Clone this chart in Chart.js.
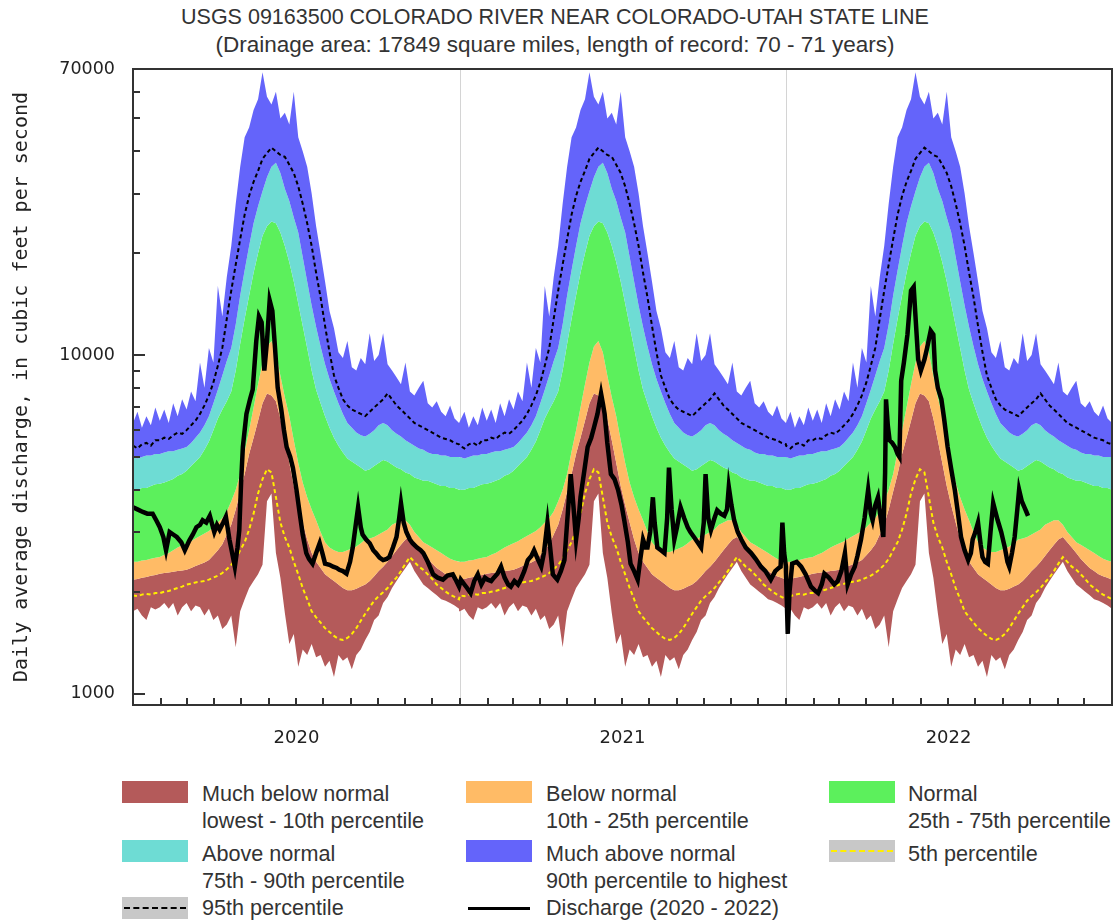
<!DOCTYPE html>
<html lang="en">
<head>
<meta charset="UTF-8">
<title>USGS 09163500 Colorado River near Colorado-Utah state line</title>
<script src="https://cdn.jsdelivr.net/npm/chart.js@4.4.1/dist/chart.umd.min.js"></script>
<style>
  *{box-sizing:border-box;margin:0;padding:0;}
  body{background:#fff;width:1117px;height:922px;position:relative;overflow:hidden;
       font-family:"Liberation Sans",Arial,sans-serif;color:#333;}
  #title{position:absolute;left:0;top:3px;width:1110px;text-align:center;font-size:21.5px;line-height:28px;}
  #title span{font-size:22.5px;}
  #chart{position:absolute;left:0;top:0;}
  .sw{position:absolute;width:66px;height:22px;}
  .txt{position:absolute;font-size:21.6px;line-height:27px;white-space:nowrap;}
  .dash{position:absolute;left:2px;right:2px;top:10px;border-top:2px dashed #000;}
</style>
</head>
<body>
<div id="title">USGS 09163500 COLORADO RIVER NEAR COLORADO-UTAH STATE LINE<br><span>(Drainage area: 17849 square miles, length of record: 70 - 71 years)</span></div>
<canvas id="chart" width="1117" height="760"></canvas>

<!-- legend -->
<div class="sw" style="left:122px;top:781px;background:#b45a5a"></div>
<div class="txt" style="left:202px;top:780px">Much below normal<br>lowest - 10th percentile</div>
<div class="sw" style="left:466px;top:781px;background:#ffbb66"></div>
<div class="txt" style="left:546px;top:780px">Below normal<br>10th - 25th percentile</div>
<div class="sw" style="left:829px;top:781px;background:#5cf05c"></div>
<div class="txt" style="left:908px;top:780px">Normal<br>25th - 75th percentile</div>

<div class="sw" style="left:122px;top:840px;background:#6edcd4"></div>
<div class="txt" style="left:202px;top:840px">Above normal<br>75th - 90th percentile</div>
<div class="sw" style="left:466px;top:840px;background:#6464fa"></div>
<div class="txt" style="left:546px;top:840px">Much above normal<br>90th percentile to highest</div>
<div class="sw" style="left:829px;top:840px;background:#c8c8c8"><div class="dash" style="border-top-color:#ffee00"></div></div>
<div class="txt" style="left:908px;top:840px">5th percentile</div>

<div class="sw" style="left:122px;top:897px;background:#c8c8c8"><div class="dash"></div></div>
<div class="txt" style="left:202px;top:894px">95th percentile</div>
<div class="sw" style="left:466px;top:897px"><div class="dash" style="border-top:3px solid #000"></div></div>
<div class="txt" style="left:546px;top:894px">Discharge (2020 - 2022)</div>

<script>
// ---- daily statistics by day of year (cfs), read every 5 days ----
const statDays = [0,5,10,15,20,25,30,35,40,45,50,55,60,65,70,75,80,85,90,95,
  100,105,110,115,120,125,130,135,140,145,150,155,160,165,170,175,180,185,190,195,
  200,205,210,215,220,225,230,235,240,245,250,255,260,265,270,275,280,285,290,295,
  300,305,310,315,320,325,330,335,340,345,350,355,360,365];
const minFlow = [1750,1780,1700,1650,1800,1770,1800,1850,1780,1850,
  1700,1800,1850,1750,1820,1800,1700,1780,1650,1700,
  1550,1600,1700,1370,1750,1900,2050,2150,2250,2400,
  3700,3900,2600,2200,1730,1400,1500,1200,1350,1300,
  1400,1280,1300,1200,1250,1120,1300,1250,1280,1180,
  1300,1350,1440,1520,1650,1700,1850,1930,2050,2150,
  2250,2350,2450,2300,2200,2100,2050,2000,1950,1900,
  1880,1850,1820,1780];
const p05 = [1950,1940,1960,1970,1960,1980,1980,2000,2010,2030,
  2050,2070,2100,2110,2130,2140,2150,2170,2200,2230,
  2270,2330,2400,2500,2650,2800,3050,3400,3900,4300,
  4600,4500,3800,3200,2900,2700,2450,2250,2050,1900,
  1750,1680,1620,1560,1520,1480,1450,1440,1460,1500,
  1560,1640,1720,1800,1880,1940,1990,2050,2130,2200,
  2300,2420,2530,2450,2370,2320,2250,2180,2100,2050,
  2000,1960,1930,1900];
const p10 = [2170,2180,2200,2210,2230,2240,2260,2270,2280,2290,
  2300,2310,2320,2350,2380,2410,2440,2480,2560,2650,
  2760,2950,3150,3500,3950,4450,5100,5700,6400,7200,
  7700,7600,7300,6500,5600,4800,4100,3600,3200,2850,
  2600,2450,2350,2250,2200,2150,2100,2050,2020,2020,
  2040,2070,2100,2150,2220,2300,2370,2450,2550,2650,
  2750,2850,2900,2800,2700,2600,2500,2420,2350,2300,
  2250,2220,2200,2170];
const p25 = [2450,2450,2470,2480,2500,2520,2530,2570,2600,2650,
  2700,2740,2780,2820,2870,2920,2970,3020,3100,3200,
  3300,3450,3700,4000,4450,5200,6000,7000,8200,9500,
  10600,11000,10200,8700,7500,6600,5600,4800,4200,3800,
  3500,3250,3000,2800,2700,2650,2620,2620,2650,2680,
  2720,2780,2850,2870,2900,2950,3000,3050,3150,3200,
  3250,3250,3150,3000,2900,2800,2750,2700,2650,2600,
  2550,2500,2470,2450];
const p75 = [4000,4000,4050,4050,4100,4150,4170,4200,4250,4300,
  4400,4450,4550,4700,4850,5000,5250,5550,6000,6500,
  6900,7300,7800,9000,10800,12800,15000,17500,20000,22500,
  24000,24800,24500,23000,21000,18800,16500,14200,12200,10500,
  9000,7900,7200,6600,6100,5700,5400,5150,4950,4850,
  4750,4650,4550,4600,4700,4800,4900,4850,4750,4650,
  4600,4500,4450,4350,4300,4250,4250,4200,4150,4100,
  4100,4050,4050,4000];
const p90 = [5000,4950,5000,5050,5050,5100,5100,5150,5200,5200,
  5250,5300,5350,5500,5700,5900,6200,6600,7200,7900,
  8700,9600,10500,12300,15000,17800,21000,24500,27500,30500,
  33500,36000,37000,34500,31000,28500,25500,23000,19500,16500,
  14000,12100,10600,9400,8500,7800,7200,6700,6300,6100,
  5900,5800,5750,5850,6000,6200,6300,6200,6000,5850,
  5750,5600,5500,5400,5300,5250,5150,5100,5100,5050,
  5050,5000,5000,5000];
const p95 = [5400,5300,5450,5500,5400,5600,5600,5700,5650,5800,
  5900,5850,6000,6200,6400,6700,7100,7600,8300,9300,
  10500,12800,15500,18500,22000,26000,29500,32500,35000,38000,
  39500,41000,40000,39000,38500,36500,34500,31500,28000,24500,
  21000,17500,14800,12200,10200,8700,8000,7400,7100,6900,
  6800,6700,6600,6800,7000,7200,7400,7700,7400,7100,
  6900,6700,6500,6300,6200,6100,6000,5900,5800,5700,
  5650,5600,5500,5450];
const maxFlow = [6300,6800,6100,6600,6200,7000,6400,6900,6300,7200,
  6600,7400,6900,7800,7300,9500,8000,10500,9500,16000,
  13000,17000,21000,28000,36000,44000,47000,53000,57000,68500,
  58000,55000,60000,50000,52000,48000,60000,44000,40000,36000,
  30000,24000,20000,16500,13500,12000,10200,9800,11000,9200,
  9000,9800,9400,11600,9600,10000,11600,9400,9000,8600,
  8200,9500,7800,7600,8000,8400,7200,7000,7300,6800,
  6600,7100,6500,6300];

// ---- daily discharge (cfs), day of year ----
const q2020Days = [0,5,11,16,22,26,30,34,37,41,45,49,54,58,63,67,71,75,78,82,
  86,91,94,97,101,104,108,111,114,117,119,121,123,125,127,131,134,138,141,144,
  147,150,153,156,159,162,166,169,172,176,179,183,187,190,194,197,201,205,209,212,
  215,220,224,228,231,235,239,243,246,249,252,255,257,261,265,269,272,276,280,284,
  287,291,295,298,300,303,306,310,313,318,322,325,330,336,341,347,352,358,362,365];
const q2020 = [3550,3500,3440,3400,3400,3250,3100,2900,2650,3000,2950,2900,2800,2650,2830,2950,3100,3150,3250,3200,
  3350,3000,3150,3050,3200,3330,2850,2600,2370,2700,3040,4200,5350,6000,6700,7400,7900,11000,13000,12500,
  9000,11000,14500,13500,10500,8000,6900,6000,5350,5000,4650,4000,3350,2950,2600,2500,2420,2600,2780,2600,
  2420,2400,2370,2350,2320,2300,2260,2450,2700,3100,3550,3100,2950,2850,2780,2650,2600,2520,2480,2500,
  2530,2700,2900,3300,3650,3200,3000,2850,2780,2700,2650,2600,2450,2250,2200,2170,2230,2250,2150,2070];
const q2021Days = [1,5,8,12,16,20,24,28,31,35,38,42,46,50,54,57,61,65,68,72,
  76,80,83,87,91,94,98,101,104,107,109,113,117,120,124,127,130,133,135,139,
  143,147,150,154,158,160,162,165,169,173,177,181,184,188,191,195,199,202,205,208,
  210,213,216,218,221,225,229,232,234,237,240,243,247,251,255,258,262,266,270,273,
  275,278,281,285,288,292,296,299,301,304,307,311,315,320,326,331,337,342,348,353,
  357,359,361,363,365];
const q2021 = [2170,2100,2050,1980,2150,2250,2100,2200,2170,2150,2200,2260,2370,2200,2100,2070,2150,2100,2170,2300,
  2480,2550,2650,2500,2370,2600,3200,2700,2250,2200,2170,2300,2480,3200,4450,3600,2850,3300,3800,4500,
  5350,5700,6100,6700,7700,7200,6700,5500,4450,4300,4000,3600,3250,2800,2420,2300,2170,2500,2850,2700,
  2700,3000,3800,3200,2700,2650,2600,3300,4650,3500,2850,3100,3550,3300,3100,3000,2900,2800,2700,3200,
  4450,3300,3040,3300,3480,3400,3350,3500,4080,3600,3250,3000,2850,2700,2600,2500,2370,2300,2170,2300,
  2350,2370,3200,2600,2370];
const q2022Days = [0,2,4,7,12,17,22,28,32,36,40,43,48,54,58,62,66,69,73,77,
  80,84,88,92,95,97,100,103,106,109,111,112,114,116,119,122,125,127,129,132,
  136,140,143,145,148,151,155,158,162,165,167,170,174,177,181,185,189,192,196,200,
  204,207,209,212,215,218,220,223,226,229,232,235,237,241,245,248,250,253,256,259,
  261,264,267,269,271];
const q2022 = [2300,1500,2000,2420,2450,2370,2250,2070,2020,1980,2100,2260,2200,2100,2150,2300,2600,2100,2250,2370,
  2550,2850,3300,4000,3400,3250,3600,3800,3300,2900,4500,7400,6200,5600,5500,5350,5100,5000,8400,9500,
  11500,15500,15900,13000,9700,9000,9700,10500,11800,11500,9000,8000,7400,6500,5350,4600,4000,3500,2900,2650,
  2480,2600,2850,3000,3200,2750,2530,2450,2420,3000,3650,3400,3250,3000,2700,2450,2370,2600,2900,3500,
  4000,3700,3550,3450,3350];

// ---- axes ----
const yearNames = ['2020', '2021', '2022'];
const yearStart = [0, 366, 731];
const yearMid = [183, 548, 913];
const axisEnd = 1096;
const monthStarts = [[31,60,91,121,152,182,213,244,274,305,335],
                     [31,59,90,120,151,181,212,243,273,304,334],
                     [31,59,90,120,151,181,212,243,273,304,334]];
const yTicks = [1000, 10000, 70000];
const yMinor = [2000,3000,4000,5000,6000,7000,8000,9000,20000,30000,40000,50000,60000];

// stats repeat each year (same day-of-year values)
const perYear = vals => yearStart.flatMap(s => statDays.map((d, i) => ({x: s + d, y: vals[i]})));
const discharge = [[q2020Days, q2020], [q2021Days, q2021], [q2022Days, q2022]]
  .flatMap(([days, vals], k) => days.map((d, i) => ({x: yearStart[k] + d, y: vals[i]})));

const band = (vals, color) => ({
  data: perYear(vals), pointRadius: 0, borderWidth: 0, borderColor: 'rgba(0,0,0,0)',
  backgroundColor: color || 'rgba(0,0,0,0)', fill: color ? '+1' : false
});

// year lines under the data, ticks and frame above it
const frame = {
  id: 'frame',
  beforeDatasetsDraw(chart) {
    const {ctx, chartArea: a, scales: {x}} = chart;
    ctx.save();
    ctx.strokeStyle = '#d4d4d4';
    ctx.lineWidth = 1;
    yearStart.slice(1).forEach(v => {
      const px = Math.round(x.getPixelForValue(v)) + 0.5;
      ctx.beginPath(); ctx.moveTo(px, a.top); ctx.lineTo(px, a.bottom); ctx.stroke();
    });
    ctx.restore();
  },
  afterDatasetsDraw(chart) {
    const {ctx, chartArea: a, scales: {x, y}} = chart;
    ctx.save();
    ctx.strokeStyle = '#333';
    ctx.lineWidth = 2;
    ctx.strokeRect(a.left, a.top, a.right - a.left, a.bottom - a.top);
    ctx.beginPath();
    yTicks.slice(0, 2).forEach(v => {
      const py = Math.round(y.getPixelForValue(v));
      ctx.moveTo(a.left, py); ctx.lineTo(a.left + 12, py);
    });
    yMinor.forEach(v => {
      const py = Math.round(y.getPixelForValue(v));
      ctx.moveTo(a.left, py); ctx.lineTo(a.left + 7, py);
    });
    monthStarts.forEach((ms, k) => {
      ms.concat(k < 2 ? [yearStart[k + 1] - yearStart[k]] : []).forEach(d => {
        const px = Math.round(x.getPixelForValue(yearStart[k] + d));
        ctx.moveTo(px, a.bottom); ctx.lineTo(px, a.bottom - 7);
      });
    });
    ctx.stroke();
    ctx.restore();
  }
};

new Chart(document.getElementById('chart'), {
  type: 'line',
  data: {
    datasets: [
      {data: discharge, borderColor: '#000', borderWidth: 4.5, pointRadius: 0, fill: false},
      {data: perYear(p95), borderColor: '#000', borderWidth: 2, borderDash: [4, 3], pointRadius: 0, fill: false},
      {data: perYear(p05), borderColor: '#ffee00', borderWidth: 2, borderDash: [4, 3], pointRadius: 0, fill: false},
      band(maxFlow, '#6464fa'),
      band(p90, '#6edcd4'),
      band(p75, '#5cf05c'),
      band(p25, '#ffbb66'),
      band(p10, '#b45a5a'),
      band(minFlow, null)
    ]
  },
  options: {
    responsive: false,
    animation: false,
    events: [],
    layout: {padding: {top: 69, right: 5, left: 0, bottom: 0}},
    plugins: {legend: {display: false}, tooltip: {enabled: false}},
    scales: {
      x: {
        type: 'linear', min: 0, max: axisEnd,
        grid: {display: false, drawTicks: false}, border: {display: false},
        afterBuildTicks: s => { s.ticks = yearMid.map(v => ({value: v})); },
        afterFit: s => { s.height = 55; },
        ticks: {callback: (v, i) => yearNames[i], autoSkip: false, maxRotation: 0,
                padding: 23, color: '#222', font: {family: 'DejaVu Sans', size: 18}}
      },
      y: {
        type: 'logarithmic', min: 925, max: 70000,
        grid: {display: false, drawTicks: false}, border: {display: false},
        afterBuildTicks: s => { s.ticks = yTicks.map(v => ({value: v})); },
        afterFit: s => { s.width = 133; },
        ticks: {callback: v => String(v), padding: 18, color: '#222',
                font: {family: 'DejaVu Sans', size: 17.5}},
        title: {display: true, text: 'Daily average discharge, in cubic feet per second',
                color: '#222', padding: {top: 10, bottom: 0},
                font: {family: 'DejaVu Sans Mono', size: 20}}
      }
    }
  },
  plugins: [frame]
});
</script>
</body>
</html>
